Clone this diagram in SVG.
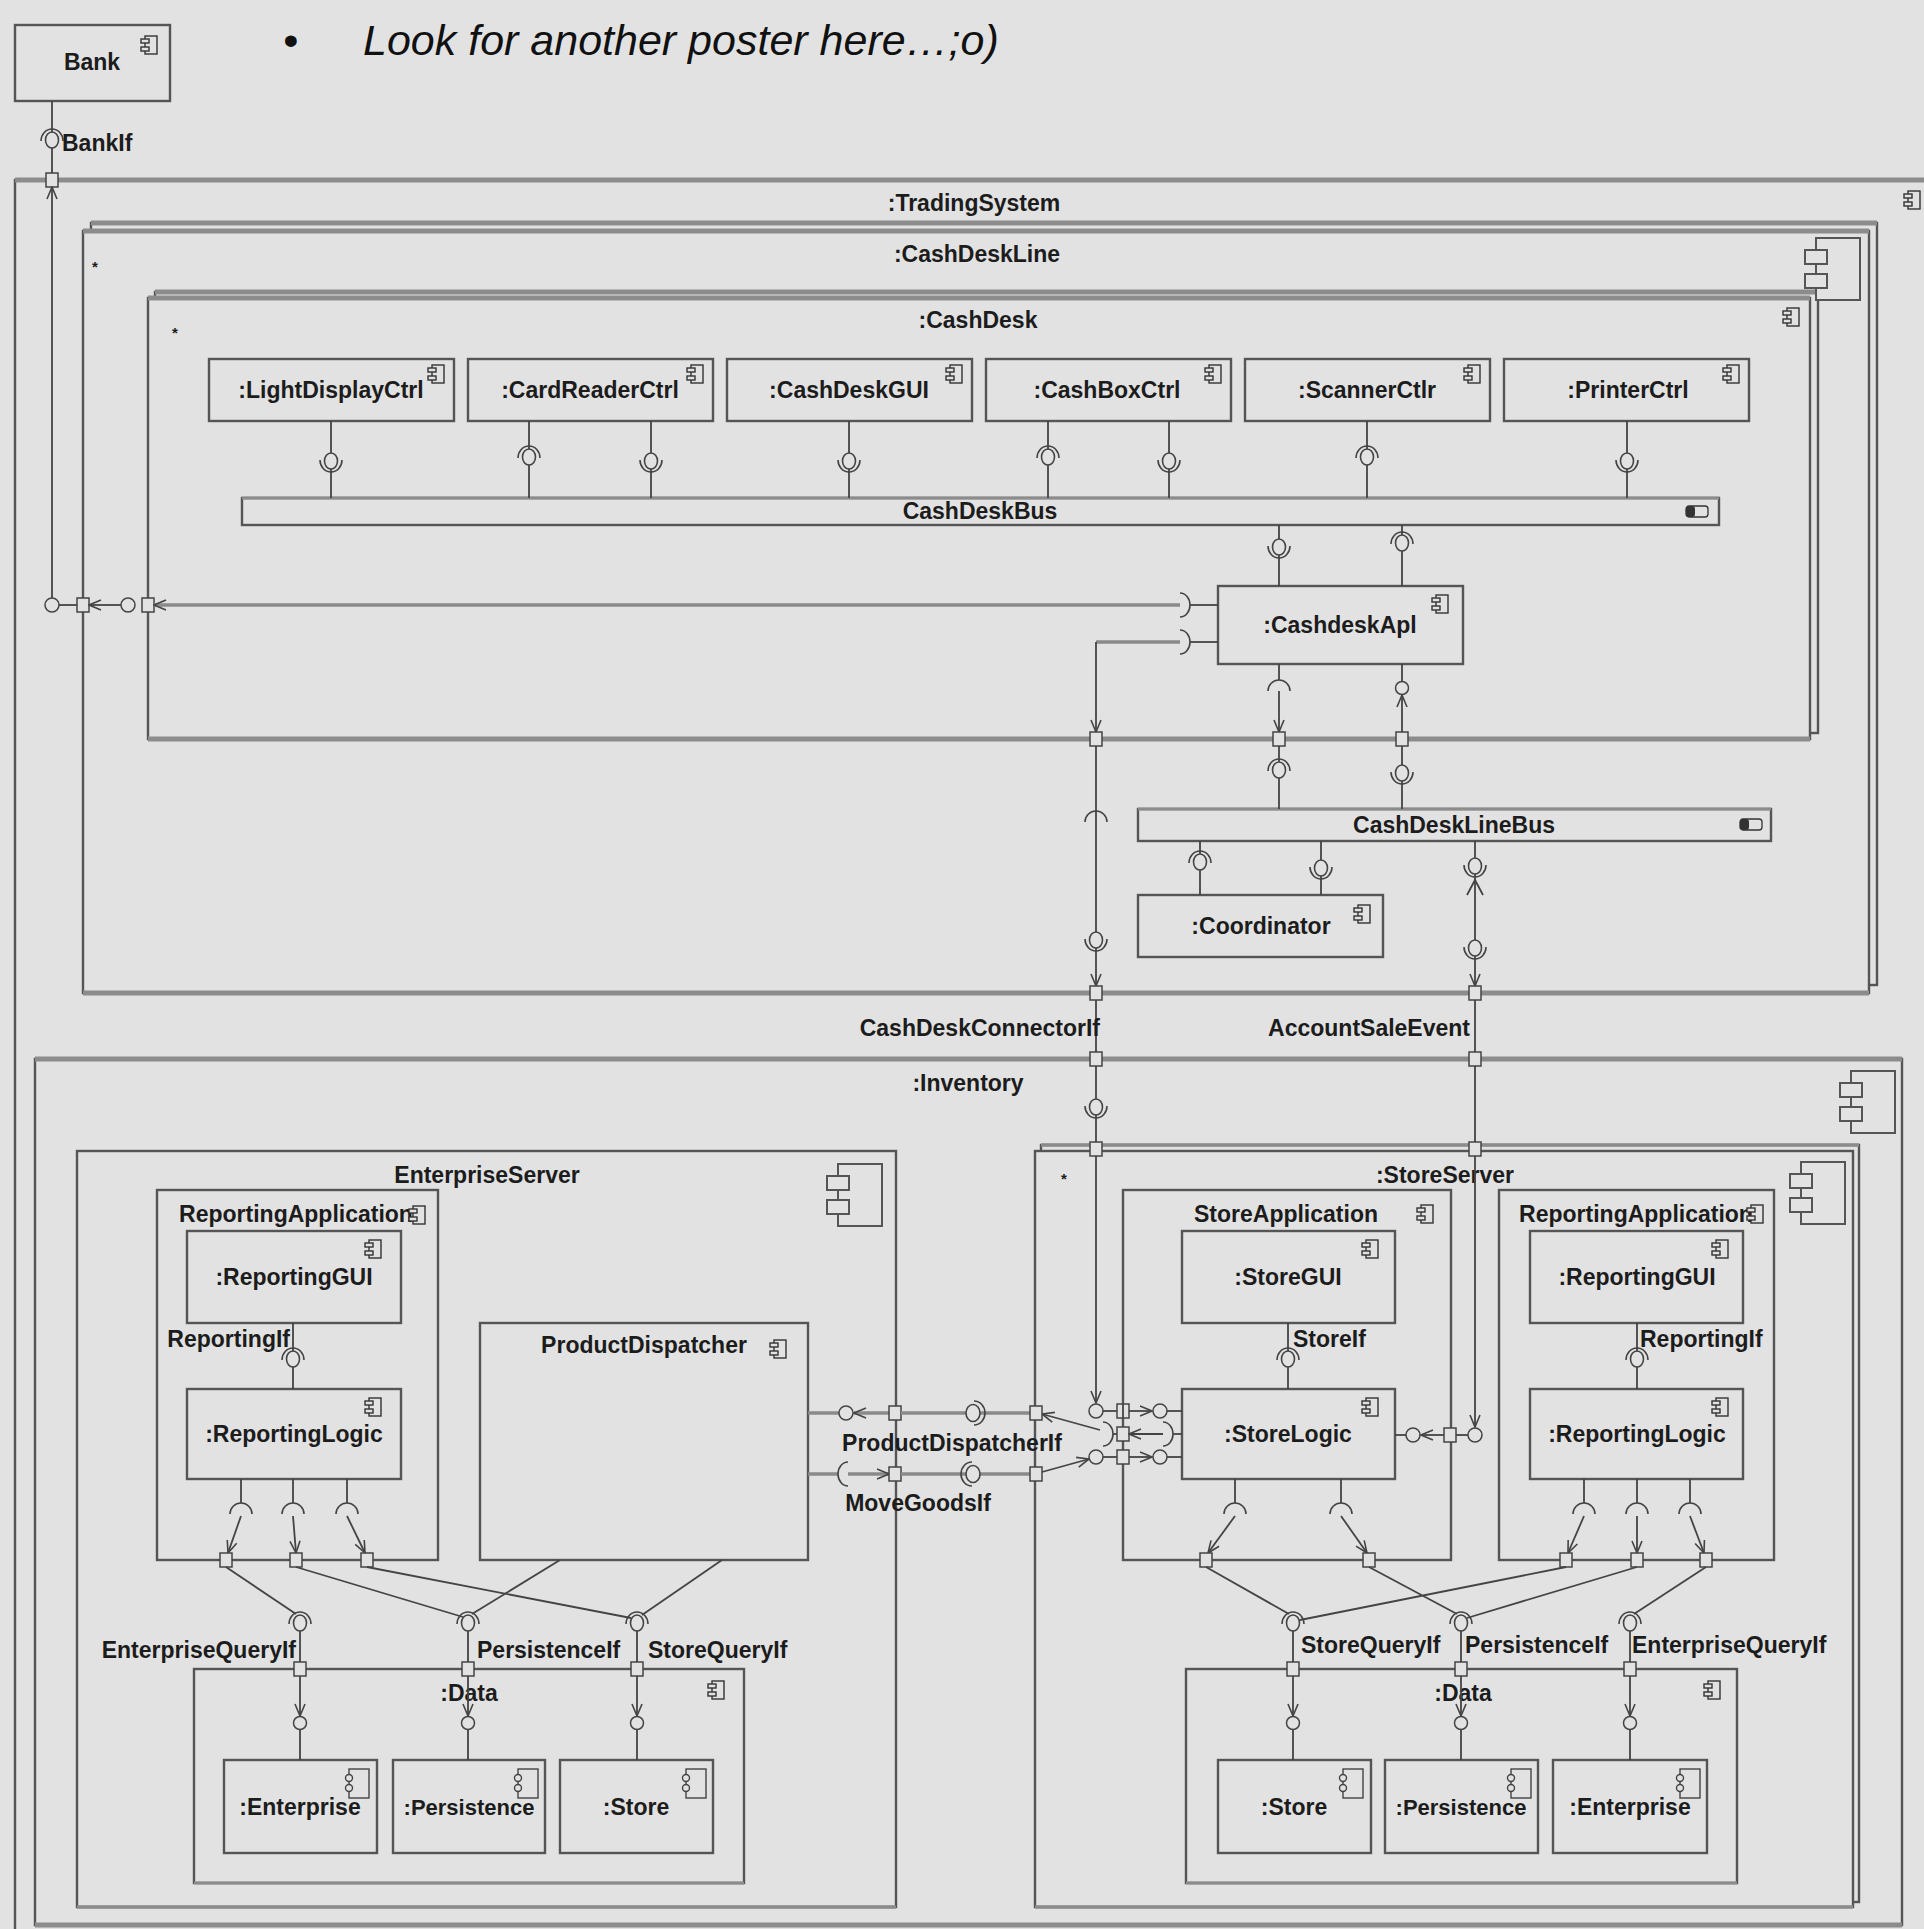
<svg xmlns="http://www.w3.org/2000/svg" xmlns:xlink="http://www.w3.org/1999/xlink" width="1924" height="1929" viewBox="0 0 1924 1929">
<style>
.b{fill:#e2e2e2;stroke:#555;stroke-width:2.4}
.tb{stroke:#8c8c8c;stroke-width:5}
.l{fill:none;stroke:#444;stroke-width:1.8}
.lt{fill:none;stroke:#8a8a8a;stroke-width:3.5}
.a{marker-end:url(#av)}
.t{font-family:"Liberation Sans",Arial,Helvetica,sans-serif;font-weight:bold;font-size:23px;fill:#1c1c1c}
.m{text-anchor:middle}
.e{text-anchor:end}
.ttl{font-family:"Liberation Sans",Arial,Helvetica,sans-serif;font-style:italic;font-size:43px;fill:#111}
</style>
<defs>
<marker id="av" viewBox="0 0 14 12" refX="13" refY="6" markerWidth="14" markerHeight="12" markerUnits="userSpaceOnUse" orient="auto"><path d="M1,1 L13,6 L1,11" fill="none" stroke="#444" stroke-width="1.6"/></marker>
<g id="ci" fill="#e2e2e2" stroke="#333" stroke-width="1.4"><rect x="0" y="0" width="12" height="18"/><rect x="-4" y="3" width="8" height="4"/><rect x="-4" y="11" width="8" height="4"/></g>
<g id="cib" fill="#e2e2e2" stroke="#555" stroke-width="2"><rect x="0" y="0" width="44" height="62"/><rect x="-11" y="12" width="22" height="14"/><rect x="-11" y="36" width="22" height="14"/></g>
<g id="cid" fill="#e2e2e2" stroke="#444" stroke-width="1.4"><rect x="0" y="0" width="20" height="29"/><circle cx="0" cy="9" r="3.5"/><circle cx="0" cy="19" r="3.5"/></g>
<g id="bi"><rect x="0" y="0" width="22" height="11" rx="3" fill="#e2e2e2" stroke="#333" stroke-width="1.3"/><rect x="0" y="0" width="9" height="11" rx="3" fill="#333"/></g>
<g id="bsD"><ellipse rx="6.5" ry="8" fill="#e2e2e2" stroke="#444" stroke-width="1.6"/><path d="M-11,-1 A11,12 0 0 0 11,-1" fill="none" stroke="#444" stroke-width="1.6"/></g>
<g id="bsU"><ellipse rx="6.5" ry="8" fill="#e2e2e2" stroke="#444" stroke-width="1.6"/><path d="M-11,1 A11,12 0 0 1 11,1" fill="none" stroke="#444" stroke-width="1.6"/></g>
<g id="bsR"><ellipse rx="7" ry="8.5" fill="#e2e2e2" stroke="#444" stroke-width="1.6"/><path d="M1,-12 A11,12 0 0 1 1,12" fill="none" stroke="#444" stroke-width="1.6"/></g>
<g id="bsL"><ellipse rx="7" ry="8.5" fill="#e2e2e2" stroke="#444" stroke-width="1.6"/><path d="M-1,-12 A11,12 0 0 0 -1,12" fill="none" stroke="#444" stroke-width="1.6"/></g>
<path id="skN" d="M-11,0 A11,11 0 0 1 11,0" fill="none" stroke="#444" stroke-width="1.6"/>
<path id="skR" d="M0,-12 A10,12 0 0 1 0,12" fill="none" stroke="#444" stroke-width="1.6"/>
<path id="skL" d="M0,-12 A10,12 0 0 0 0,12" fill="none" stroke="#444" stroke-width="1.6"/>
<rect id="pt" x="-6" y="-7" width="12" height="14" fill="#e2e2e2" stroke="#444" stroke-width="1.5"/>
<circle id="bl" r="7" fill="#e2e2e2" stroke="#444" stroke-width="1.5"/>
<circle id="bls" r="6.5" fill="#e2e2e2" stroke="#444" stroke-width="1.5"/>
</defs>
<rect x="0" y="0" width="1924" height="1929" fill="#e2e2e2"/>

<g id="title">
<text class="ttl" x="283" y="55">•</text>
<text class="ttl" x="363" y="55">Look for another poster here…;o)</text>
</g>

<g id="bank"><rect class="b" x="15" y="25" width="155" height="76"/><text class="t m" x="92" y="70">Bank</text><use href="#ci" x="145" y="36"/></g>

<g id="tradingSystem"><rect class="b" x="15" y="180" width="1960" height="1800"/><line class="tb" x1="15" y1="180" x2="1924" y2="180"/><text class="t m" x="974" y="211">:TradingSystem</text><use href="#ci" x="1908" y="191"/></g>

<g id="cashDeskLine">
<rect class="b" x="91" y="223" width="1786" height="762"/><line class="tb" x1="91" y1="223" x2="1877" y2="223"/>
<rect class="b" x="83" y="231" width="1786" height="762"/><line class="tb" x1="83" y1="231" x2="1869" y2="231"/><line class="tb" x1="83" y1="993" x2="1869" y2="993"/>
<text class="t m" x="977" y="262">:CashDeskLine</text><text class="t" x="92" y="272" style="font-size:15px">*</text>
</g>

<g id="cashDesk">
<rect class="b" x="155" y="292" width="1663" height="441"/><line class="tb" x1="155" y1="292" x2="1818" y2="292"/>
<rect class="b" x="148" y="298" width="1662" height="441"/><line class="tb" x1="148" y1="298" x2="1810" y2="298"/><line class="tb" x1="148" y1="739" x2="1810" y2="739"/>
<text class="t m" x="978" y="328">:CashDesk</text><text class="t" x="172" y="338" style="font-size:15px">*</text><use href="#ci" x="1787" y="308"/>
</g>
<use href="#cib" x="1816" y="238"/>

<g id="lightDisplayCtrl"><rect class="b" x="209" y="359" width="245" height="62"/><text class="t m" x="331" y="398">:LightDisplayCtrl</text><use href="#ci" x="432" y="365"/></g>
<g id="cardReaderCtrl"><rect class="b" x="468" y="359" width="245" height="62"/><text class="t m" x="590" y="398">:CardReaderCtrl</text><use href="#ci" x="691" y="365"/></g>
<g id="cashDeskGUI"><rect class="b" x="727" y="359" width="245" height="62"/><text class="t m" x="849" y="398">:CashDeskGUI</text><use href="#ci" x="950" y="365"/></g>
<g id="cashBoxCtrl"><rect class="b" x="986" y="359" width="245" height="62"/><text class="t m" x="1107" y="398">:CashBoxCtrl</text><use href="#ci" x="1209" y="365"/></g>
<g id="scannerCtlr"><rect class="b" x="1245" y="359" width="245" height="62"/><text class="t m" x="1367" y="398">:ScannerCtlr</text><use href="#ci" x="1468" y="365"/></g>
<g id="printerCtrl"><rect class="b" x="1504" y="359" width="245" height="62"/><text class="t m" x="1628" y="398">:PrinterCtrl</text><use href="#ci" x="1727" y="365"/></g>

<g id="cashDeskBus"><rect class="b" x="242" y="498" width="1477" height="27"/><line class="tb" x1="242" y1="498" x2="1719" y2="498" style="stroke-width:3"/><text class="t m" x="980" y="519">CashDeskBus</text><use href="#bi" x="1686" y="506"/></g>

<g id="cashdeskApl"><rect class="b" x="1218" y="586" width="245" height="78"/><text class="t m" x="1340" y="633">:CashdeskApl</text><use href="#ci" x="1436" y="595"/></g>

<g id="cashDeskLineBus"><rect class="b" x="1138" y="809" width="633" height="32"/><line class="tb" x1="1138" y1="809" x2="1771" y2="809" style="stroke-width:3"/><text class="t m" x="1454" y="833">CashDeskLineBus</text><use href="#bi" x="1740" y="819"/></g>

<g id="coordinator"><rect class="b" x="1138" y="895" width="245" height="62"/><text class="t m" x="1261" y="934">:Coordinator</text><use href="#ci" x="1358" y="905"/></g>

<g id="inventory">
<rect class="b" x="35" y="1059" width="1867" height="866"/><line class="tb" x1="35" y1="1059" x2="1902" y2="1059"/><line class="tb" x1="35" y1="1925" x2="1902" y2="1925"/>
<text class="t m" x="968" y="1091">:Inventory</text><use href="#cib" x="1851" y="1071"/>
</g>

<g id="enterpriseServer">
<rect class="b" x="77" y="1151" width="819" height="756"/><line class="tb" x1="77" y1="1907" x2="896" y2="1907" style="stroke-width:3.5"/>
<text class="t m" x="487" y="1183">EnterpriseServer</text><use href="#cib" x="838" y="1164"/>
</g>
<g id="reportingApplicationE"><rect class="b" x="157" y="1190" width="281" height="370"/><text class="t m" x="296" y="1222">ReportingApplication</text><use href="#ci" x="413" y="1206"/></g>
<g id="reportingGUIE"><rect class="b" x="187" y="1231" width="214" height="92"/><text class="t m" x="294" y="1285">:ReportingGUI</text><use href="#ci" x="369" y="1240"/></g>
<g id="reportingLogicE"><rect class="b" x="187" y="1389" width="214" height="90"/><text class="t m" x="294" y="1442">:ReportingLogic</text><use href="#ci" x="369" y="1398"/></g>
<g id="productDispatcher"><rect class="b" x="480" y="1323" width="328" height="237"/><text class="t m" x="644" y="1353">ProductDispatcher</text><use href="#ci" x="774" y="1340"/></g>
<g id="dataE"><rect class="b" x="194" y="1669" width="550" height="214"/><line class="tb" x1="194" y1="1883" x2="744" y2="1883" style="stroke-width:3"/><text class="t m" x="469" y="1701">:Data</text><use href="#ci" x="712" y="1681"/></g>
<g id="enterpriseE"><rect class="b" x="224" y="1760" width="153" height="93"/><text class="t m" x="300" y="1815">:Enterprise</text><use href="#cid" x="349" y="1769"/></g>
<g id="persistenceE"><rect class="b" x="393" y="1760" width="152" height="93"/><text class="t m" x="469" y="1815" style="font-size:22px">:Persistence</text><use href="#cid" x="518" y="1769"/></g>
<g id="storeE"><rect class="b" x="560" y="1760" width="153" height="93"/><text class="t m" x="636" y="1815">:Store</text><use href="#cid" x="686" y="1769"/></g>

<g id="storeServer">
<rect class="b" x="1041" y="1145" width="818" height="757"/><line class="tb" x1="1041" y1="1145" x2="1859" y2="1145" style="stroke-width:3.5"/>
<rect class="b" x="1035" y="1151" width="818" height="756"/><line class="tb" x1="1035" y1="1907" x2="1853" y2="1907" style="stroke-width:3.5"/>
<text class="t m" x="1445" y="1183">:StoreServer</text><text class="t" x="1061" y="1184" style="font-size:15px">*</text><use href="#cib" x="1801" y="1162"/>
</g>
<g id="storeApplication"><rect class="b" x="1123" y="1190" width="328" height="370"/><text class="t m" x="1286" y="1222">StoreApplication</text><use href="#ci" x="1421" y="1205"/></g>
<g id="storeGUI"><rect class="b" x="1182" y="1231" width="213" height="92"/><text class="t m" x="1288" y="1285">:StoreGUI</text><use href="#ci" x="1366" y="1240"/></g>
<g id="storeLogic"><rect class="b" x="1182" y="1389" width="213" height="90"/><text class="t m" x="1288" y="1442">:StoreLogic</text><use href="#ci" x="1366" y="1398"/></g>
<g id="reportingApplicationS"><rect class="b" x="1499" y="1190" width="275" height="370"/><text class="t m" x="1636" y="1222">ReportingApplication</text><use href="#ci" x="1751" y="1205"/></g>
<g id="reportingGUIS"><rect class="b" x="1530" y="1231" width="213" height="92"/><text class="t m" x="1637" y="1285">:ReportingGUI</text><use href="#ci" x="1716" y="1240"/></g>
<g id="reportingLogicS"><rect class="b" x="1530" y="1389" width="213" height="90"/><text class="t m" x="1637" y="1442">:ReportingLogic</text><use href="#ci" x="1716" y="1398"/></g>
<g id="dataS"><rect class="b" x="1186" y="1669" width="551" height="214"/><line class="tb" x1="1186" y1="1883" x2="1737" y2="1883" style="stroke-width:3"/><text class="t m" x="1463" y="1701">:Data</text><use href="#ci" x="1708" y="1681"/></g>
<g id="storeS"><rect class="b" x="1218" y="1760" width="153" height="93"/><text class="t m" x="1294" y="1815">:Store</text><use href="#cid" x="1343" y="1769"/></g>
<g id="persistenceS"><rect class="b" x="1385" y="1760" width="153" height="93"/><text class="t m" x="1461" y="1815" style="font-size:22px">:Persistence</text><use href="#cid" x="1511" y="1769"/></g>
<g id="enterpriseS"><rect class="b" x="1553" y="1760" width="154" height="93"/><text class="t m" x="1630" y="1815">:Enterprise</text><use href="#cid" x="1680" y="1769"/></g>

<g id="connectors">
<!-- Bank -->
<path class="l" d="M52,101V173"/>
<use href="#bsU" x="52" y="140"/>
<use href="#pt" x="52" y="180"/>
<path class="l a" d="M52,598V187"/>
<use href="#bl" x="52" y="605"/>
<path class="l" d="M59,605H77"/>
<use href="#pt" x="83" y="605"/>
<path class="l a" d="M121,605H89"/>
<use href="#bl" x="128" y="605"/>
<use href="#pt" x="148" y="605"/>
<path class="lt a" d="M1180,605H154"/>
<use href="#skR" x="1180" y="605"/>
<path class="l" d="M1190,605H1218"/>
<!-- CashDeskConnectorIf chain -->
<path class="l" d="M1190,642H1218"/>
<use href="#skR" x="1180" y="642"/>
<path class="lt" d="M1180,642H1096"/>
<path class="l a" d="M1096,642V732"/>
<use href="#pt" x="1096" y="739"/>
<path class="l a" d="M1096,746V986"/>
<use href="#skN" x="1096" y="822"/>
<use href="#bsD" x="1096" y="940"/>
<use href="#pt" x="1096" y="993"/>
<path class="l" d="M1096,1000V1052"/>
<use href="#pt" x="1096" y="1059"/>
<path class="l a" d="M1096,1066V1403"/>
<use href="#bsD" x="1096" y="1107"/>
<use href="#pt" x="1096" y="1149"/>
<use href="#bl" x="1096" y="1411"/>
<text class="t e" x="1100" y="1036">CashDeskConnectorIf</text>
<!-- CashdeskApl to bus and line bus -->
<path class="l" d="M1279,525V586"/>
<path class="l" d="M1402,525V586"/>
<use href="#bsD" x="1279" y="547"/>
<use href="#bsU" x="1402" y="543"/>
<path class="l" d="M1279,664V680"/>
<use href="#skN" x="1279" y="691"/>
<path class="l a" d="M1279,691V732"/>
<use href="#pt" x="1279" y="739"/>
<path class="l" d="M1279,746V809"/>
<use href="#bsU" x="1279" y="770"/>
<path class="l" d="M1402,664V681"/>
<use href="#bls" x="1402" y="688"/>
<path class="l a" d="M1402,732V695"/>
<use href="#pt" x="1402" y="739"/>
<path class="l" d="M1402,746V809"/>
<use href="#bsD" x="1402" y="773"/>
<!-- components to CashDeskBus -->
<path class="l" d="M331,421V498 M529,421V498 M651,421V498 M849,421V498 M1048,421V498 M1169,421V498 M1367,421V498 M1627,421V498"/>
<use href="#bsD" x="331" y="461"/>
<use href="#bsU" x="529" y="457"/>
<use href="#bsD" x="651" y="461"/>
<use href="#bsD" x="849" y="461"/>
<use href="#bsU" x="1048" y="457"/>
<use href="#bsD" x="1169" y="461"/>
<use href="#bsU" x="1367" y="457"/>
<use href="#bsD" x="1627" y="461"/>
<!-- line bus to coordinator -->
<path class="l" d="M1200,841V895 M1321,841V895"/>
<use href="#bsU" x="1200" y="862"/>
<use href="#bsD" x="1321" y="868"/>
<!-- AccountSaleEvent chain -->
<path class="l a" d="M1475,841V986"/>
<use href="#bsD" x="1475" y="866"/>
<path class="l" d="M1467,895 L1475,880 L1483,895"/>
<use href="#bsD" x="1475" y="948"/>
<use href="#pt" x="1475" y="993"/>
<path class="l" d="M1475,1000V1052"/>
<use href="#pt" x="1475" y="1059"/>
<path class="l a" d="M1475,1066V1427"/>
<use href="#pt" x="1475" y="1149"/>
<use href="#bl" x="1475" y="1435"/>
<text class="t e" x="1470" y="1036">AccountSaleEvent</text>
<!-- StoreLogic right -->
<path class="l" d="M1395,1435H1406"/>
<use href="#bl" x="1413" y="1435"/>
<path class="l a" d="M1444,1435H1421"/>
<use href="#pt" x="1450" y="1435"/>
<path class="l" d="M1456,1435H1468"/>
<!-- StoreLogic left -->
<path class="l" d="M1103,1411H1117"/>
<use href="#pt" x="1123" y="1411"/>
<path class="l" d="M1123,1404V1418"/>
<path class="l a" d="M1129,1411H1152"/>
<use href="#bl" x="1160" y="1411"/>
<path class="l" d="M1167,1411H1182"/>
<use href="#skR" x="1103" y="1434"/>
<path class="l" d="M1113,1434H1117"/>
<use href="#pt" x="1123" y="1434"/>
<path class="l a" d="M1163,1434H1129"/>
<use href="#skR" x="1163" y="1434"/>
<path class="l" d="M1173,1434H1182"/>
<use href="#bl" x="1096" y="1457"/>
<path class="l" d="M1103,1457H1117"/>
<use href="#pt" x="1123" y="1457"/>
<path class="l a" d="M1129,1457H1152"/>
<use href="#bl" x="1160" y="1457"/>
<path class="l" d="M1167,1457H1182"/>
<path class="l a" d="M1100,1430L1042,1414"/>
<path class="l a" d="M1042,1472L1089,1459"/>
<!-- ProductDispatcher -->
<path class="lt" d="M808,1413H839"/>
<use href="#bl" x="846" y="1413"/>
<path class="lt a" d="M889,1413H854"/>
<use href="#pt" x="895" y="1413"/>
<path class="lt" d="M901,1413H1030"/>
<use href="#bsR" x="973" y="1413"/>
<use href="#pt" x="1036" y="1413"/>
<path class="lt" d="M808,1474H838"/>
<use href="#skL" x="848" y="1474"/>
<path class="lt a" d="M848,1474H889"/>
<use href="#pt" x="895" y="1474"/>
<path class="lt" d="M901,1474H1030"/>
<use href="#bsL" x="973" y="1474"/>
<use href="#pt" x="1036" y="1474"/>
<text class="t m" x="952" y="1451">ProductDispatcherIf</text>
<text class="t m" x="918" y="1511">MoveGoodsIf</text>
<!-- GUI to Logic -->
<path class="l" d="M293,1323V1389 M1288,1323V1389 M1637,1323V1389"/>
<use href="#bsU" x="293" y="1359"/>
<use href="#bsU" x="1288" y="1359"/>
<use href="#bsU" x="1637" y="1359"/>
<text class="t e" x="290" y="1347">ReportingIf</text>
<text class="t" x="1293" y="1347">StoreIf</text>
<text class="t" x="1640" y="1347">ReportingIf</text>
<!-- logic sockets to ports -->
<path class="l" d="M241,1479V1503 M293,1479V1503 M347,1479V1503 M1235,1479V1503 M1341,1479V1503 M1584,1479V1503 M1637,1479V1503 M1690,1479V1503"/>
<use href="#skN" x="241" y="1514"/><use href="#skN" x="293" y="1514"/><use href="#skN" x="347" y="1514"/>
<use href="#skN" x="1235" y="1514"/><use href="#skN" x="1341" y="1514"/>
<use href="#skN" x="1584" y="1514"/><use href="#skN" x="1637" y="1514"/><use href="#skN" x="1690" y="1514"/>
<path class="l a" d="M241,1516L228,1553"/>
<path class="l a" d="M293,1516L296,1553"/>
<path class="l a" d="M347,1516L365,1553"/>
<path class="l a" d="M1235,1516L1208,1553"/>
<path class="l a" d="M1341,1516L1367,1553"/>
<path class="l a" d="M1584,1516L1568,1553"/>
<path class="l a" d="M1637,1516L1637,1553"/>
<path class="l a" d="M1690,1516L1704,1553"/>
<use href="#pt" x="226" y="1560"/><use href="#pt" x="296" y="1560"/><use href="#pt" x="367" y="1560"/>
<use href="#pt" x="1206" y="1560"/><use href="#pt" x="1369" y="1560"/>
<use href="#pt" x="1566" y="1560"/><use href="#pt" x="1637" y="1560"/><use href="#pt" x="1706" y="1560"/>
<!-- ports to data interfaces -->
<path class="l" d="M226,1567L296,1614 M296,1567L463,1617 M367,1567L631,1618 M560,1560L472,1614 M722,1560L642,1615"/>
<path class="l" d="M1206,1567L1289,1614 M1369,1567L1457,1614 M1566,1567L1300,1620 M1637,1567L1467,1618 M1706,1567L1634,1614"/>
<path class="l" d="M300,1623V1662 M468,1623V1662 M637,1623V1662 M1293,1623V1662 M1461,1623V1662 M1630,1623V1662"/>
<use href="#bsU" x="300" y="1623"/><use href="#bsU" x="468" y="1623"/><use href="#bsU" x="637" y="1623"/>
<use href="#bsU" x="1293" y="1623"/><use href="#bsU" x="1461" y="1623"/><use href="#bsU" x="1630" y="1623"/>
<use href="#pt" x="300" y="1669"/><use href="#pt" x="468" y="1669"/><use href="#pt" x="637" y="1669"/>
<use href="#pt" x="1293" y="1669"/><use href="#pt" x="1461" y="1669"/><use href="#pt" x="1630" y="1669"/>
<path class="l a" d="M300,1676V1716"/>
<path class="l a" d="M468,1676V1716"/>
<path class="l a" d="M637,1676V1716"/>
<path class="l a" d="M1293,1676V1716"/>
<path class="l a" d="M1461,1676V1716"/>
<path class="l a" d="M1630,1676V1716"/>
<path class="l" d="M300,1729V1760 M468,1729V1760 M637,1729V1760 M1293,1729V1760 M1461,1729V1760 M1630,1729V1760"/>
<use href="#bls" x="300" y="1723"/><use href="#bls" x="468" y="1723"/><use href="#bls" x="637" y="1723"/>
<use href="#bls" x="1293" y="1723"/><use href="#bls" x="1461" y="1723"/><use href="#bls" x="1630" y="1723"/>
<text class="t e" x="296" y="1658">EnterpriseQueryIf</text>
<text class="t" x="477" y="1658">PersistenceIf</text>
<text class="t" x="648" y="1658">StoreQueryIf</text>
<text class="t" x="1301" y="1653">StoreQueryIf</text>
<text class="t" x="1465" y="1653">PersistenceIf</text>
<text class="t" x="1632" y="1653">EnterpriseQueryIf</text>
<text class="t" x="62" y="151">BankIf</text>
</g>
</svg>
